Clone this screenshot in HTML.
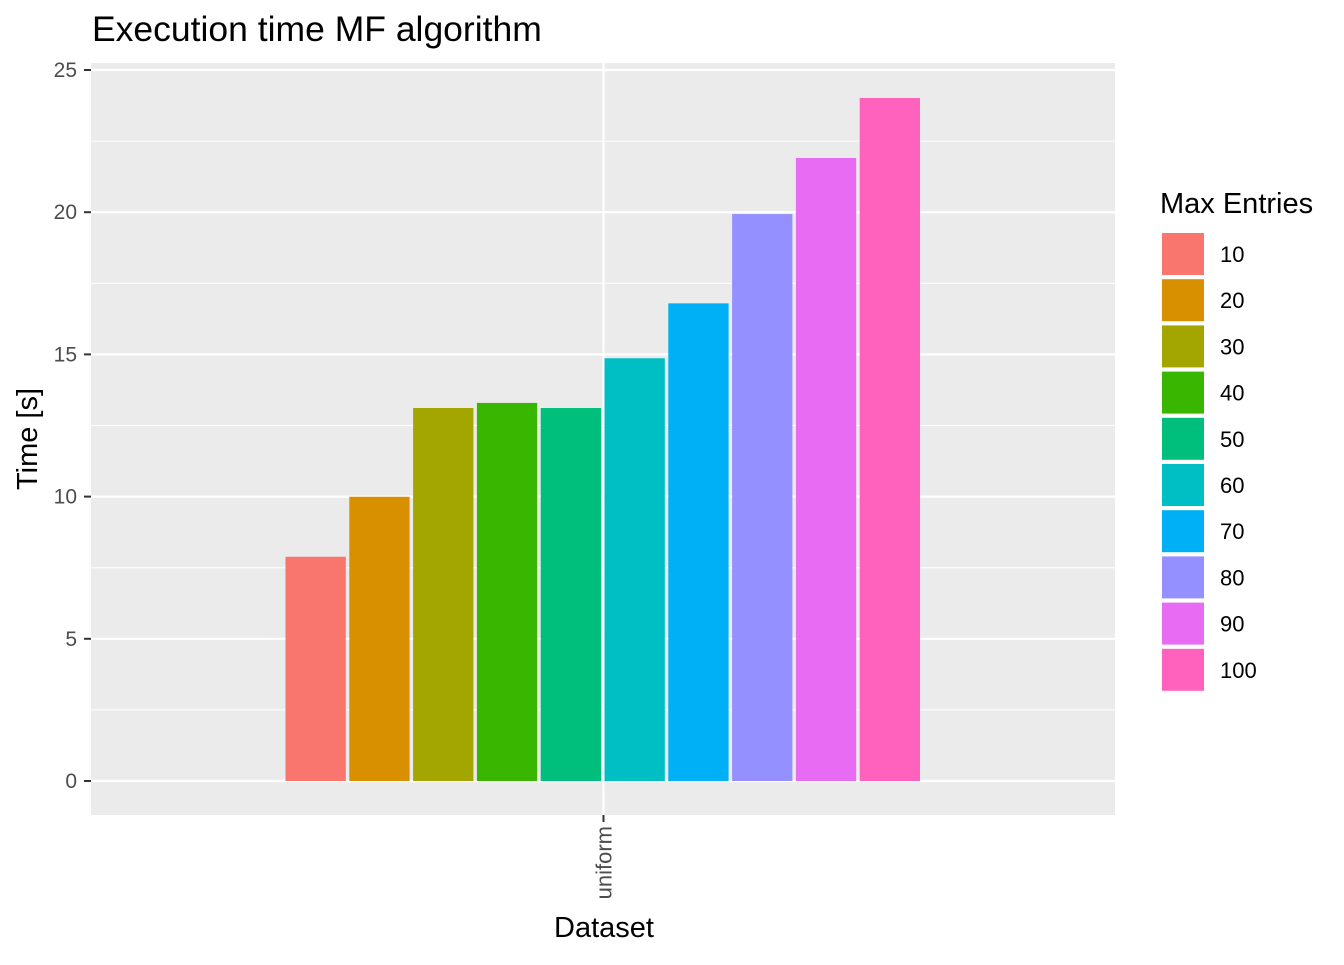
<!DOCTYPE html>
<html><head><meta charset="utf-8"><style>
body{margin:0;background:#fff}
svg text{font-family:"Liberation Sans",Arial,sans-serif}
</style></head><body>
<svg id="chart" width="1344" height="960">
<rect width="1344" height="960" fill="#fff"/>
<text x="92" y="41" font-size="35.5" fill="#000">Execution time MF algorithm</text>
<rect x="91" y="63" width="1024" height="752" fill="#ebebeb"/>
<g id="grid"></g><g id="bars"></g><g id="axes"></g><g id="legend"></g>
<text x="37" y="439" font-size="29" text-anchor="middle" transform="rotate(-90 37 439)">Time [s]</text>
<text x="604" y="937" font-size="29" text-anchor="middle">Dataset</text>
<text x="1160" y="213" font-size="29">Max Entries</text>
</svg>
<script>
const categories=["10","20","30","40","50","60","70","80","90","100"];
const values=[7.92,10.03,13.15,13.33,13.15,14.9,16.83,19.97,21.94,24.05];
const colors=["#F8766D","#D89000","#A3A500","#39B600","#00BF7D","#00BFC4","#00B0F6","#9590FF","#E76BF3","#FF62BC"];
const yTicks=[0,5,10,15,20,25];
const dataset=["uniform"];
const NS="http://www.w3.org/2000/svg";
function mk(t,a,p){const e=document.createElementNS(NS,t);for(const k in a)e.setAttribute(k,a[k]);p.appendChild(e);return e;}
const y=v=>781-v*28.44;
const cx=603.5, slot=63.8;
const x=i=>cx+(i-categories.length/2)*slot;
const grid=document.getElementById('grid');
for(let i=0;i<yTicks.length-1;i++){const m=(yTicks[i]+yTicks[i+1])/2;
 const l=mk('line',{x1:91,x2:1115,y1:y(m),y2:y(m),stroke:'#fff','stroke-width':1},grid);
 
 }
yTicks.forEach(t=>{const l=mk('line',{x1:91,x2:1115,y1:y(t),y2:y(t),stroke:'#fff','stroke-width':2.2},grid);
 
 });
const vg=mk('line',{x1:cx,x2:cx,y1:63,y2:815,stroke:'#fff','stroke-width':2.2},grid);


const bars=document.getElementById('bars');
values.forEach((v,i)=>{const r=mk('rect',{x:x(i)+1,y:y(v)+1,width:slot-3.5,height:y(0)-y(v)-1,fill:colors[i]},bars);
 
 });
const ax=document.getElementById('axes');
yTicks.forEach(t=>{mk('line',{x1:84,x2:91,y1:y(t),y2:y(t),stroke:'#333','stroke-width':2},ax);
 const tx=mk('text',{x:77,y:y(t)+7,'font-size':21,'text-anchor':'end',fill:'#4d4d4d'},ax);tx.textContent=t;
 
 });
mk('line',{x1:cx,x2:cx,y1:815,y2:822,stroke:'#333','stroke-width':2},ax);
const xl=mk('text',{x:cx+8,y:826,'font-size':22,'text-anchor':'end',fill:'#4d4d4d',transform:`rotate(-90 ${cx+8} 826)`},ax);
xl.textContent=dataset[0];


const lg=document.getElementById('legend');
categories.forEach((c,i)=>{const yy=233+i*46.2;
 const k=mk('rect',{x:1162,y:yy,width:42,height:42,fill:colors[i]},lg);
 
 
 const t=mk('text',{x:1220,y:yy+29,'font-size':22,fill:'#000'},lg);t.textContent=c;
 
 });
</script>
</body></html>
